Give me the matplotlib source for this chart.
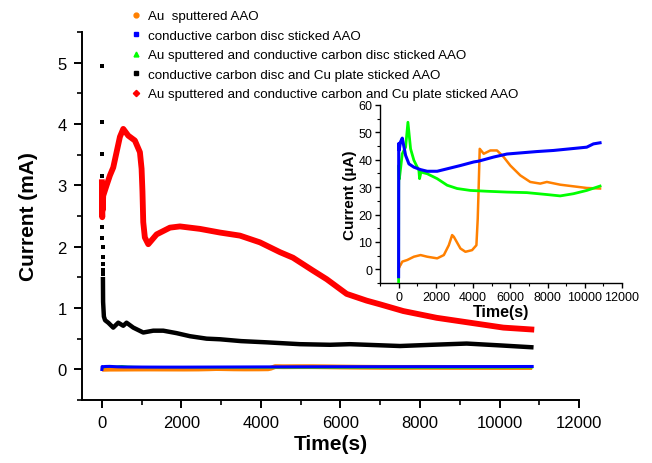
import matplotlib
matplotlib.use("Agg")
import matplotlib.pyplot as plt
from matplotlib.ticker import MultipleLocator
from matplotlib.lines import Line2D

plt.rcParams['font.family'] = ['Liberation Sans', 'DejaVu Sans']

# ---------------- data ----------------
# inset series (µA)
orange_t = [0, 10, 20, 60, 107, 196, 464, 821, 1179, 1536, 2071, 2429, 2696, 2875, 2964,
            3321, 3589, 3946, 4179, 4250, 4300, 4357, 4571, 4929, 5286, 5643, 6000, 6536,
            7071, 7607, 7964, 8679, 9393, 10107, 10821]
orange_v = [0.0, 1.0, 0.5, 1.2, 1.6, 2.8, 3.4, 4.6, 5.2, 4.6, 4.0, 5.2, 8.8, 12.5, 11.9,
            7.6, 6.4, 7.0, 8.8, 18.5, 30.0, 44.0, 42.2, 43.4, 43.4, 41.0, 37.9, 34.3,
            31.9, 31.3, 31.9, 30.9, 30.3, 29.7, 29.5]

blue_t = [0, 5, 10, 30, 100, 196, 375, 554, 821, 1179, 1536, 2071, 2607, 3321, 4036, 4300,
          5107, 5821, 6536, 7429, 8321, 9214, 10107, 10464, 10821]
blue_v = [-2.7, 44.0, 46.0, 43.5, 46.5, 47.9, 41.6, 38.5, 37.3, 36.4, 35.8, 35.8, 36.7, 37.9,
          39.2, 39.5, 41.0, 42.1, 42.5, 43.0, 43.4, 44.0, 44.6, 45.8, 46.2]

green_t = [0, 5, 15, 40, 196, 375, 500, 643, 821, 1089, 1125, 1200, 1536, 2071, 2607, 3143,
           3857, 4750, 5821, 6893, 7964, 8679, 9393, 10107, 10821]
green_v = [-4.5, 29.5, 38.0, 33.0, 42.2, 44.6, 53.7, 44.0, 39.8, 36.1, 33.1, 35.5, 34.9,
           33.1, 30.7, 29.5, 28.8, 28.5, 28.2, 28.0, 27.3, 26.8, 27.6, 28.8, 30.4]

# main series (mA)
black_pts_t = [0, 2, 4, 6, 8, 10, 12, 14, 16, 18, 20, 22, 24]
black_pts_v = [4.95, 4.04, 3.51, 3.15, 2.83, 2.55, 2.32, 2.14, 1.99, 1.83, 1.72, 1.62, 1.55]
black_t = [26, 30, 50, 80, 160, 285, 411, 537, 620, 789, 1040, 1292, 1543, 1878, 2214, 2633,
           2968, 3500, 4143, 4981, 5736, 6239, 7497, 8300, 9174, 10013, 10800]
black_v = [1.47, 1.1, 0.86, 0.80, 0.76, 0.68, 0.76, 0.71, 0.76, 0.68, 0.60, 0.63, 0.63, 0.59,
           0.54, 0.50, 0.49, 0.46, 0.44, 0.41, 0.40, 0.41, 0.38, 0.40, 0.42, 0.39, 0.36]

red_t = [0, 3, 6, 9, 12, 15, 20, 33, 118, 201, 285, 369, 453, 537, 560, 663, 830, 956, 998,
         1020, 1040, 1080, 1166, 1376, 1711, 1962, 2465, 2968, 3472, 3975, 4478, 4805, 5308,
         5652, 6155, 6658, 6993, 7580, 8418, 9257, 10096, 10800]
red_v = [3.05, 2.8, 2.55, 2.48, 2.7, 2.95, 2.6, 2.83, 3.0, 3.16, 3.29, 3.54, 3.79, 3.92, 3.90,
         3.81, 3.73, 3.54, 3.27, 2.9, 2.4, 2.15, 2.04, 2.2, 2.31, 2.33, 2.29, 2.23, 2.18,
         2.07, 1.91, 1.82, 1.61, 1.47, 1.23, 1.12, 1.06, 0.95, 0.84, 0.76, 0.68, 0.65]

legend_labels = ["Au  sputtered AAO",
                 "conductive carbon disc sticked AAO",
                 "Au sputtered and conductive carbon disc sticked AAO",
                 "conductive carbon disc and Cu plate sticked AAO",
                 "Au sputtered and conductive carbon and Cu plate sticked AAO"]

c_orange = '#ff8000'
c_blue = '#0000ff'
c_green = '#00ff00'
c_black = '#000000'
c_red = '#ff0000'

# ---------------- figure ----------------
fig = plt.figure(figsize=(6.52, 4.64), dpi=100)
ax = fig.add_axes([0.1258, 0.1358, 0.7623, 0.7931])

to_mA = lambda vals: [v / 1000.0 for v in vals]
ax.plot(orange_t, to_mA(orange_v), color=c_orange, lw=3.5, solid_capstyle='butt', zorder=2)
ax.plot(blue_t, to_mA(blue_v), color=c_blue, lw=2.2, zorder=3)
ax.plot(green_t, to_mA(green_v), color=c_green, lw=1.5, zorder=2.5)
ax.plot(black_pts_t, black_pts_v, 's', color=c_black, ms=2.6, mew=0, zorder=4)
ax.plot(black_t, black_v, color=c_black, lw=3.2, zorder=4)
ax.plot(red_t, red_v, color=c_red, lw=4.2, zorder=5)

ax.set_xlim(-500, 12000)
ax.set_ylim(-0.5, 5.5)
ax.xaxis.set_major_locator(MultipleLocator(2000))
ax.xaxis.set_minor_locator(MultipleLocator(1000))
ax.yaxis.set_major_locator(MultipleLocator(1))
ax.yaxis.set_minor_locator(MultipleLocator(0.5))
for s in ['top', 'right']:
    ax.spines[s].set_visible(False)
for s in ['left', 'bottom']:
    ax.spines[s].set_linewidth(1.4)
ax.tick_params(which='major', direction='out', length=6, width=1.4, labelsize=12, pad=5)
ax.tick_params(which='minor', direction='out', length=3.5, width=1.2)
ax.set_xlabel('Time(s)', fontsize=15, fontweight='bold', labelpad=3)
ax.set_ylabel('Current (mA)', fontsize=15, fontweight='bold', labelpad=14)

# legend
handles = [
    Line2D([], [], ls='none', marker='o', color=c_orange, ms=3.5),
    Line2D([], [], ls='none', marker='s', color=c_blue, ms=3.5),
    Line2D([], [], ls='none', marker='^', color=c_green, ms=3.5),
    Line2D([], [], ls='none', marker='s', color=c_black, ms=3.5),
    Line2D([], [], ls='none', marker='D', color=c_red, ms=3.2),
]
fig.legend(handles, legend_labels, loc='upper left', bbox_to_anchor=(129 / 652, 1 - 11 / 464),
           frameon=False, fontsize=9.6, handlelength=1.0, handletextpad=0.4,
           labelspacing=0.54, borderaxespad=0, borderpad=0)

# inset
ins = fig.add_axes([380 / 652, 1 - 284 / 464, 242 / 652, 178 / 464])
ins.patch.set_alpha(0)
ins.plot(orange_t, orange_v, color=c_orange, lw=1.8, zorder=2)
ins.plot(blue_t, blue_v, color=c_blue, lw=2.2, zorder=4)
ins.plot(green_t, green_v, color=c_green, lw=2.0, zorder=3)
ins.set_xlim(-1000, 12000)
ins.set_ylim(-5, 60)
ins.xaxis.set_major_locator(MultipleLocator(2000))
ins.xaxis.set_minor_locator(MultipleLocator(1000))
ins.yaxis.set_major_locator(MultipleLocator(10))
ins.yaxis.set_minor_locator(MultipleLocator(5))
for s in ['top', 'right']:
    ins.spines[s].set_visible(False)
for s in ['left', 'bottom']:
    ins.spines[s].set_linewidth(1.0)
ins.tick_params(which='major', direction='out', length=3.5, width=1.0, labelsize=9, pad=2)
ins.tick_params(which='minor', direction='out', length=2, width=0.8)
ins.set_xlabel('Time(s)', fontsize=11.5, fontweight='bold', labelpad=1)
ins.set_ylabel('Current (µA)', fontsize=11, fontweight='bold', labelpad=1)

fig.savefig('out.png', dpi=100)
